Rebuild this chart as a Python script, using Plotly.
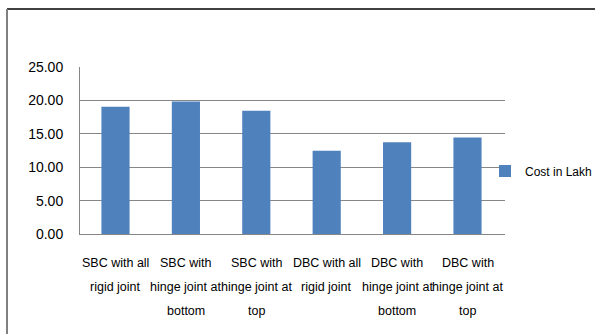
import plotly.graph_objects as go

categories = ["SBC with all rigid joint", "SBC with hinge joint at bottom",
              "SBC with hinge joint at top", "DBC with all rigid joint",
              "DBC with hinge joint at bottom", "DBC with hinge joint at top"]
label_lines = [["SBC with all", "rigid joint"],
               ["SBC with", "hinge joint at", "bottom"],
               ["SBC with", "hinge joint at", "top"],
               ["DBC with all", "rigid joint"],
               ["DBC with", "hinge joint at", "bottom"],
               ["DBC with", "hinge joint at", "top"]]
cost = [19.05, 19.85, 18.45, 12.45, 13.75, 14.45]
series_name = "Cost in Lakh"
y_ticks = [0, 5, 10, 15, 20, 25]

FONT = "Liberation Sans Narrow, Liberation Sans, sans-serif"
GRID = "#868686"

fig = go.Figure()
fig.add_trace(go.Bar(x=categories, y=cost, name=series_name,
                     marker=dict(color="#4F81BD", line=dict(width=0))))

annotations = []
for cat, lines in zip(categories, label_lines):
    for i, ln in enumerate(lines):
        annotations.append(dict(x=cat, xref="x", y=0, yref="y", text=ln,
                                showarrow=False, yanchor="middle", xanchor="center",
                                yshift=-29 - 24 * i,
                                font=dict(family=FONT, size=12.5, color="#000000")))

W, H = 595, 334
L, R, T, B = 80, 90, 67, 100
pw = W - L - R
ph = H - T - B
def px_x(p):
    return (p - L) / pw
def px_y(p):
    return (H - B - p) / ph

shapes = [
    dict(type="line", xref="paper", yref="paper", x0=px_x(7), x1=px_x(596),
         y0=px_y(9), y1=px_y(9), line=dict(color="#000000", width=1.5)),
    dict(type="line", xref="paper", yref="paper", x0=px_x(7), x1=px_x(7),
         y0=px_y(9), y1=px_y(335), line=dict(color="#808080", width=2)),
]

fig.update_layout(
    width=W, height=H, autosize=False,
    margin=dict(l=L, r=R, t=T, b=B, pad=0, autoexpand=False),
    paper_bgcolor="white", plot_bgcolor="white",
    bargap=0.6,
    showlegend=True,
    legend=dict(xref="container", yref="container",
                x=485 / W, y=1 - 171 / H, xanchor="left", yanchor="middle",
                font=dict(family=FONT, size=12, color="#000000"),
                bgcolor="rgba(0,0,0,0)", borderwidth=0, itemwidth=30),
    annotations=annotations,
    shapes=shapes,
    xaxis=dict(showticklabels=False, showline=True, linecolor=GRID, linewidth=1,
               ticks="", showgrid=False, zeroline=False),
    yaxis=dict(range=[0, 25], tickvals=y_ticks, tickformat=".2f",
               showline=True, linecolor=GRID, linewidth=1,
               showgrid=True, gridcolor=GRID, gridwidth=1, zeroline=False,
               ticks="", ticklabelstandoff=13,
               tickfont=dict(family=FONT, size=14, color="#000000")),
)

fig.write_html("out.html")
